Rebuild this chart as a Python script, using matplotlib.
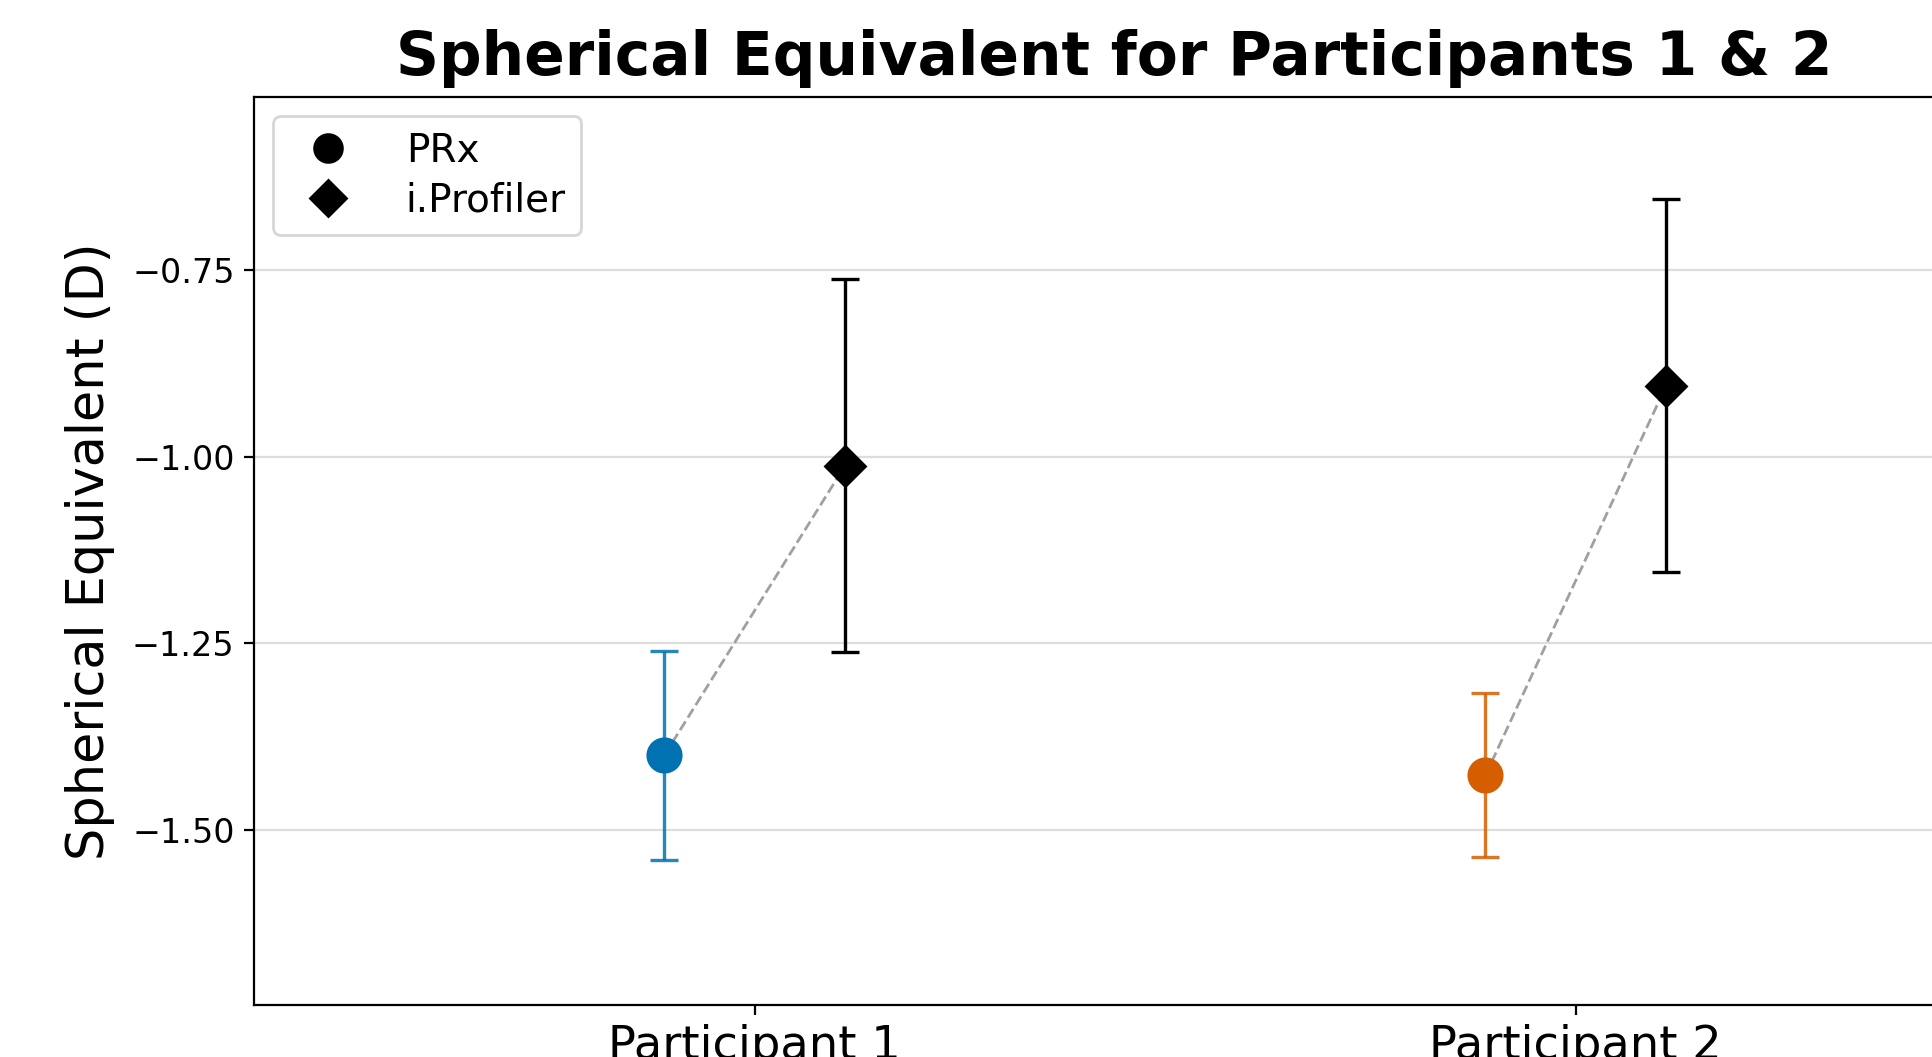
import numpy as np
import matplotlib
matplotlib.use("Agg")
import matplotlib.pyplot as plt
from matplotlib.lines import Line2D
from matplotlib.colors import to_rgba

# participant labels and measured spherical equivalents (D)
participants = ["Participant 1", "Participant 2"]
prx_mean = [-1.40, -1.427]
prx_err = [0.14, 0.11]
iprof_mean = [-1.012, -0.905]
iprof_err = [0.25, 0.25]
colors = ["#0072B2", "#D55E00"]
yticks = [-1.50, -1.25, -1.00, -0.75]

offset = 0.11

fig = plt.figure(figsize=(9.665, 5.285), dpi=200)
ax = fig.add_axes([0.1314, 0.0492, 0.8898, 0.859])

x = np.arange(len(participants))

for i in range(len(participants)):
	#SD dashed line joining the two measurements
	ax.plot([x[i] - offset, x[i] + offset], [prx_mean[i], iprof_mean[i]],
		ls="--", color="gray", alpha=0.75, lw=1.0, zorder=1)
	ax.errorbar(x[i] - offset, prx_mean[i], yerr=prx_err[i], fmt="o",
		color=colors[i], ecolor=to_rgba(colors[i], 0.85), elinewidth=1.2,
		capsize=5, capthick=1.2, markersize=12, zorder=3)
	ax.errorbar(x[i] + offset, iprof_mean[i], yerr=iprof_err[i], fmt="D",
		color="black", ecolor="black", elinewidth=1.2, capsize=5,
		capthick=1.2, markersize=10, zorder=3)

ax.set_xticks(x)
ax.set_xticklabels(participants, fontsize=16.7)
ax.set_yticks(yticks)
ax.tick_params(axis="y", labelsize=12)
ax.set_xlim(-0.61, 1.485)
ax.set_ylim(-1.735, -0.518)
ax.yaxis.grid(True, color="#dddddd", lw=0.8)
ax.set_axisbelow(True)

ax.set_ylabel("Spherical Equivalent (D)", fontsize=18.3, labelpad=6)
ax.set_title("Spherical Equivalent for Participants 1 & 2", fontsize=21.5,
	fontweight="bold", pad=8)

handles = [Line2D([], [], marker="o", color="black", ls="none", markersize=10),
	Line2D([], [], marker="D", color="black", ls="none", markersize=9)]
ax.legend(handles, ["PRx", "i.Profiler"], loc="upper left", fontsize=14,
	labelspacing=0.3, handletextpad=1.0)

fig.savefig("out.png", dpi=200)
